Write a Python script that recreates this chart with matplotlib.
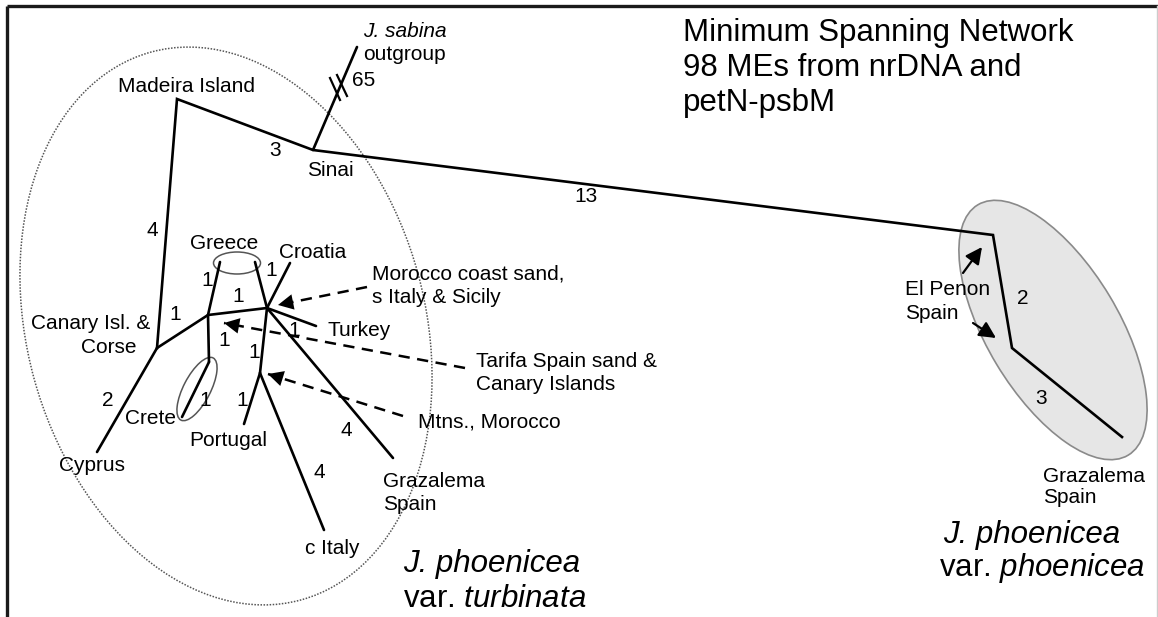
"""
Minimum spanning network of Juniperus phoenicea (98 MEs, nrDNA + petN-psbM).
Redrawn in the pixel frame of the original figure (x right, y down).
"""
import matplotlib
matplotlib.use("Agg")
import matplotlib.pyplot as plt
from matplotlib.patches import Ellipse

plt.rcParams.update({
    "font.family": ["Liberation Sans", "DejaVu Sans"],
    "mathtext.fontset": "custom",
    "mathtext.rm": "Liberation Sans",
    "mathtext.it": "Liberation Sans:italic",
})

W, H = 1158, 617

# network nodes (position)
node_names = ["madeira", "sinai", "outgroup", "canary", "cyprus", "node_a",
              "greece_l", "greece_r", "crete_n", "crete", "hub", "croatia",
              "turkey", "graz_w", "node_c", "portugal", "c_italy",
              "penon_1", "penon_2", "graz_e"]
node_x = [177, 313, 357, 157, 97, 208, 220, 255, 209, 182, 267, 290,
          316, 393, 260, 244, 324, 993, 1012, 1122]
node_y = [99, 150, 47, 348, 452, 315, 262, 262, 362, 417, 308, 263,
          326, 458, 373, 424, 530, 235, 348, 437]

# main chain drawn as one polyline, the rest as single branches
main_chain = ["canary", "madeira", "sinai", "penon_1", "penon_2", "graz_e"]
branches = [("sinai", "outgroup"), ("canary", "cyprus"), ("canary", "node_a"),
            ("node_a", "greece_l"), ("node_a", "crete_n"), ("crete_n", "crete"),
            ("node_a", "hub"), ("hub", "greece_r"), ("hub", "croatia"),
            ("hub", "turkey"), ("hub", "graz_w"), ("hub", "node_c"),
            ("node_c", "portugal"), ("node_c", "c_italy")]

# mutation counts on the branches
step_labels = ["4", "3", "1", "1", "1", "1", "1", "1", "1", "1", "1",
               "4", "4", "2", "13", "2", "3"]
step_x = [152, 275, 207, 271, 238, 175, 224, 254, 294, 205, 242,
          346, 319, 108, 586, 1023, 1041]
step_y = [230, 150, 280, 271, 297, 315, 340, 352, 330, 400, 400,
          430, 473, 400, 197, 298, 398]

# place names: text, x, y (baseline), horizontal alignment
place_text = ["Madeira Island", "Sinai", "outgroup", "Greece", "Croatia",
              "Morocco coast sand,", "s Italy & Sicily", "Turkey",
              "Tarifa Spain sand &", "Canary Islands", "Mtns., Morocco",
              "Canary Isl. &", "Corse", "Crete", "Cyprus", "Portugal",
              "c Italy", "Grazalema", "Spain", "El Penon", "Spain",
              "Grazalema", "Spain"]
place_x = [187, 330, 363, 224, 313, 372, 372, 328, 476, 476, 418,
           150, 137, 150, 92, 228, 332, 383, 383, 905, 905, 1043, 1043]
place_y = [92, 176, 60, 249, 258, 279, 303, 336, 367, 390, 427,
           329, 353, 424, 471, 446, 554, 487, 510, 295, 319, 482, 503]
place_ha = ["center", "center", "left", "center", "center", "left", "left",
            "left", "left", "left", "left", "right", "right", "center",
            "center", "center", "center", "left", "left", "left", "left",
            "left", "left"]

# dashed pointers: start (label side) -> tip (node side)
dash_x0 = [367, 465, 403]
dash_y0 = [287, 368, 416]
dash_x1 = [278, 224, 268]
dash_y1 = [305, 323, 374]

# solid pointers for El Penon
pen_x0 = [963, 973]
pen_y0 = [273, 323]
pen_x1 = [982, 996]
pen_y1 = [247, 338]

title_lines = ["Minimum Spanning Network", "98 MEs from nrDNA and", "petN-psbM"]

pos = {n: (x, y) for n, x, y in zip(node_names, node_x, node_y)}

fig = plt.figure(figsize=(W / 100, H / 100), dpi=100)
ax = fig.add_axes([0, 0, 1, 1])
ax.set_xlim(0, W)
ax.set_ylim(H, 0)
ax.axis("off")

# frame (top + left, faint right edge)
ax.plot([7, W], [6, 6], color="#1a1a1a", lw=2.4, solid_capstyle="butt")
ax.plot([7, 7], [6, H], color="#1a1a1a", lw=2.4, solid_capstyle="butt")
ax.plot([W - 1.5, W - 1.5], [6, H], color="#cccccc", lw=1)

# group outlines
ax.add_patch(Ellipse((226, 326), 568, 398, angle=74.7, fill=False,
                     ec="#555555", lw=1.1, ls=(0, (1, 1))))
ax.add_patch(Ellipse((1053, 330), 292, 132, angle=59, fc="#e6e6e6",
                     ec="#8a8a8a", lw=1.2, zorder=0))
ax.add_patch(Ellipse((237, 263), 47, 22, fill=False, ec="#555555", lw=1.1))
ax.add_patch(Ellipse((197, 389), 70, 27, angle=-62.6, fill=False,
                     ec="#555555", lw=1.1))

# network
lw_net = 1.9
ax.plot([pos[n][0] for n in main_chain], [pos[n][1] for n in main_chain],
        color="black", lw=lw_net, solid_joinstyle="miter")
for a, b in branches:
    ax.plot([pos[a][0], pos[b][0]], [pos[a][1], pos[b][1]],
            color="black", lw=lw_net, solid_capstyle="round")

# break marks on the outgroup branch
ax.plot([330, 340], [78, 100], color="black", lw=1.6)
ax.plot([337, 347], [75, 96], color="black", lw=1.6)
ax.text(352, 81, "65", fontsize=15, ha="left", va="center")

for s, x, y in zip(step_labels, step_x, step_y):
    ax.text(x, y, s, fontsize=15, ha="center", va="center")

for s, x, y, ha in zip(place_text, place_x, place_y, place_ha):
    ax.text(x, y, s, fontsize=15, ha=ha, va="baseline")
ax.text(363, 37, "J. sabina", fontsize=15, style="italic", va="baseline")

# dashed pointers with solid heads
for x0, y0, x1, y1 in zip(dash_x0, dash_y0, dash_x1, dash_y1):
    ax.plot([x0, x1], [y0, y1], color="black", lw=1.8, ls=(0, (4.5, 3)))
    ax.annotate("", xy=(x1, y1), xytext=(x1 + (x0 - x1) * 0.15, y1 + (y0 - y1) * 0.15),
                arrowprops=dict(arrowstyle="-|>,head_length=0.55,head_width=0.28",
                                mutation_scale=20, color="black", lw=0,
                                shrinkA=0, shrinkB=0))
for x0, y0, x1, y1 in zip(pen_x0, pen_y0, pen_x1, pen_y1):
    ax.annotate("", xy=(x1, y1), xytext=(x0, y0),
                arrowprops=dict(arrowstyle="-|>,head_length=0.5,head_width=0.25",
                                mutation_scale=20, color="black", lw=1.6,
                                shrinkA=0, shrinkB=0))

# title and group names
for i, line in enumerate(title_lines):
    ax.text(683, 41 + 35 * i, line, fontsize=22.5, va="baseline")
ax.text(403, 572, "J. phoenicea", fontsize=22.5, style="italic", va="baseline")
ax.text(403, 607, r"var. $\mathit{turbinata}$", fontsize=22.5, va="baseline")
ax.text(943, 543, "J. phoenicea", fontsize=22.5, style="italic", va="baseline")
ax.text(939, 576, r"var. $\mathit{phoenicea}$", fontsize=22.5, va="baseline")

fig.savefig("out.png", dpi=100)
